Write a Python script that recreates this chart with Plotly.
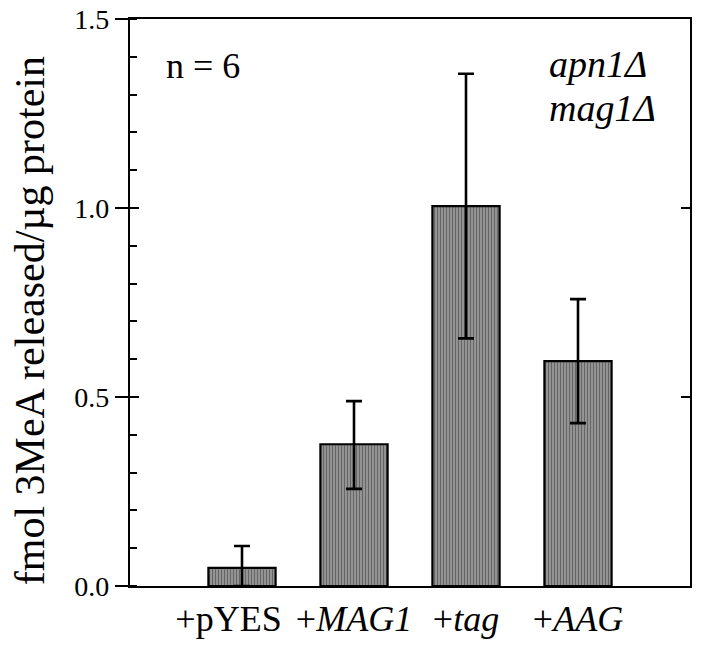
import plotly.graph_objects as go

categories = ["+pYES", "+<i>MAG1</i>", "+<i>tag</i>", "+<i>AAG</i>"]
values = [0.048, 0.375, 1.005, 0.595]
err_plus = [0.058, 0.114, 0.35, 0.164]
err_minus = [0.048, 0.118, 0.35, 0.164]
y_ticks = [0.0, 0.5, 1.0, 1.5]
y_tick_labels = ["0.0", "0.5", "1.0", "1.5"]

xpos = list(range(len(categories)))
FONT = "Liberation Serif"
# first label sits slightly left of its bar in the original
tick_text = [categories[0] + "\u00a0\u00a0\u00a0"] + categories[1:]

fig = go.Figure()
fig.add_trace(go.Bar(
    x=xpos, y=values, width=0.6,
    marker=dict(color="#8a8a8a", line=dict(color="black", width=2.2),
                pattern=dict(shape="|", fgcolor="#666666", bgcolor="#9c9c9c", size=3, solidity=0.45)),
    error_y=dict(type="data", symmetric=False, array=err_plus, arrayminus=err_minus,
                 color="black", thickness=2.6, width=8),
    showlegend=False,
))
fig.add_trace(go.Scatter(x=[0], y=[0], yaxis="y2", mode="markers",
                         marker=dict(opacity=0), showlegend=False, hoverinfo="skip"))

fig.update_layout(
    template="none",
    width=701, height=653,
    margin=dict(l=130, r=11, t=19, b=67, autoexpand=False),
    paper_bgcolor="white", plot_bgcolor="white",
    font=dict(family=FONT, color="black"),
    xaxis=dict(range=[-1, 4], tickvals=xpos, ticktext=tick_text, ticks="",
               tickangle=0,
               showline=True, linecolor="black", linewidth=2.2, mirror=True,
               showgrid=False, zeroline=False, automargin=False,
               tickfont=dict(size=36, family=FONT, color="black")),
    yaxis=dict(range=[0, 1.5], tickvals=y_ticks, ticktext=y_tick_labels,
               ticks="outside", ticklen=13, tickwidth=2.2, tickcolor="black",
               showline=True, linecolor="black", linewidth=2.2, mirror=True,
               showgrid=False, zeroline=False, automargin=False,
               tickfont=dict(size=28, family=FONT, color="black"),
               minor=dict(ticks="inside", ticklen=7, tickwidth=2, tickcolor="black",
                          dtick=0.1, tick0=0, showgrid=False)),
    yaxis2=dict(range=[0, 1.5], overlaying="y", side="left", anchor="x",
                tickvals=[0.5, 1.0], ticks="inside", ticklen=9, tickwidth=2.2,
                tickcolor="black", mirror="ticks", showticklabels=False, automargin=False,
                showline=False, showgrid=False, zeroline=False),
    bargap=0.4,
)

fig.add_annotation(xref="paper", yref="paper", x=(30 - 130) / 560, y=0.467,
                   text="fmol 3MeA released/µg protein", textangle=-90,
                   showarrow=False, xanchor="center", yanchor="middle",
                   font=dict(size=42, family=FONT, color="black"))
fig.add_annotation(xref="paper", yref="paper", x=(164 - 130) / 560, y=(586 - 66) / 567,
                   text="n = 6", showarrow=False, xanchor="left", yanchor="middle",
                   font=dict(size=36, family=FONT, color="black"))
fig.add_annotation(xref="paper", yref="paper", x=(547 - 130) / 560, y=(586 - 64) / 567,
                   text="<i>apn1Δ</i>", showarrow=False, xanchor="left", yanchor="middle",
                   font=dict(size=38, family=FONT, color="black"))
fig.add_annotation(xref="paper", yref="paper", x=(547 - 130) / 560, y=(586 - 108) / 567,
                   text="<i>mag1Δ</i>", showarrow=False, xanchor="left", yanchor="middle",
                   font=dict(size=38, family=FONT, color="black"))

fig.write_html("out.html", config={"displayModeBar": False},
               post_script="document.body.style.margin='0';document.body.style.padding='0';")
